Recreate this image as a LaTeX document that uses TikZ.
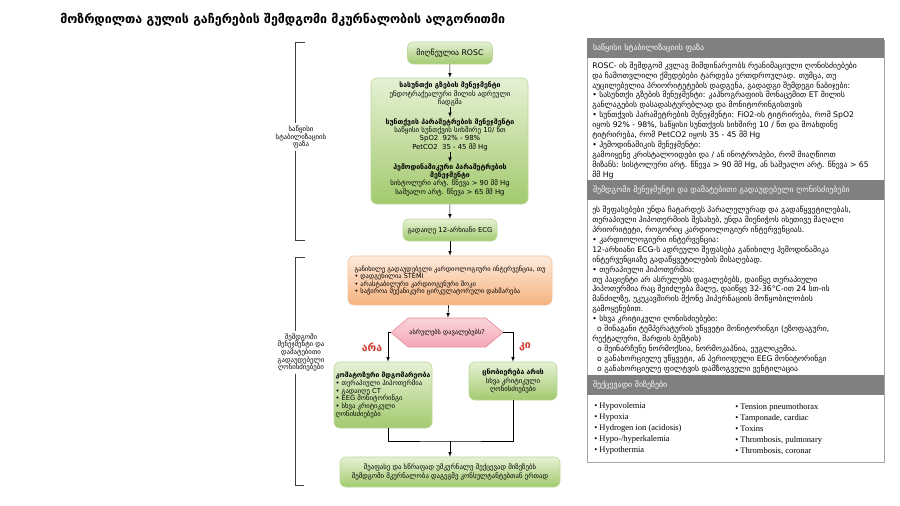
\documentclass[tikz,border=0pt]{standalone}
\usepackage{fontspec}
\setmainfont{DejaVu Sans}
\newfontfamily\latinserif{Liberation Serif}
\usetikzlibrary{shapes,arrows,positioning,calc}
\usepackage{xcolor}

\definecolor{greentop}{HTML}{E6F1D5}
\definecolor{greenbot}{HTML}{A2CA6E}
\definecolor{greenedge}{HTML}{BBD79A}
\definecolor{orangetop}{HTML}{FDEBDD}
\definecolor{orangebot}{HTML}{F6B27E}
\definecolor{orangeedge}{HTML}{F2C4A0}
\definecolor{pinktop}{HTML}{FAD3DA}
\definecolor{pinkbot}{HTML}{F3A9B6}
\definecolor{pinkedge}{HTML}{E38B9B}
\definecolor{hdrgray}{HTML}{808080}
\definecolor{panelgray}{HTML}{A6A6A6}
\definecolor{redlabel}{HTML}{CC3B2E}
\definecolor{brkgray}{HTML}{404040}

\begin{document}
\begin{tikzpicture}[x=1pt, y=-1pt, >=latex, line width=0.6pt,
    greenbox/.style={rounded corners=6pt, top color=greentop, bottom color=greenbot, draw=greenedge, align=center, inner sep=1pt, font=\fontsize{6.8}{8.5}\selectfont},
    orangebox/.style={rounded corners=6pt, top color=orangetop, bottom color=orangebot, draw=orangeedge, align=left, inner sep=1pt, font=\fontsize{6.5}{7.6}\selectfont},
    askbox/.style={signal, signal to=east and west, signal pointer angle=80, top color=pinktop, bottom color=pinkbot, draw=pinkedge, inner sep=1pt, font=\fontsize{6.4}{7}\selectfont},
    stabtext/.style={align=center, inner sep=1pt, font=\fontsize{6.9}{8.3}\selectfont},
    brktext/.style={align=center, inner sep=2pt, font=\fontsize{6.8}{7.6}\selectfont},
    yesno/.style={text=redlabel, font=\fontsize{10.5}{12}\selectfont\bfseries},
    hdr/.style={fill=hdrgray, text=white, minimum width=297, minimum height=16, text width=285, inner sep=6pt, align=left, font=\fontsize{7.9}{9}\selectfont},
    bodytext/.style={anchor=north west, align=left, inner sep=2pt, font=\fontsize{7.7}{9.9}\selectfont},
    causetext/.style={anchor=north west, align=left, inner sep=1pt, font=\latinserif\fontsize{8.5}{11}\selectfont}]
\useasboundingbox (0,0) rectangle (900,506);

% title
\node[anchor=west, inner sep=0pt, font=\fontsize{12.4}{14}\selectfont\bfseries] (title) at (60,20) {მოზრდილთა გულის გაჩერების შემდგომი მკურნალობის ალგორითმი};

% flow
\node[greenbox, minimum width=85, minimum height=22, font=\fontsize{7.8}{9}\selectfont] (rosc) at (450,53) {მიღწეულია ROSC};

\node[greenbox, minimum width=157, minimum height=126] (stab) at (449.5,141) {};
\node[stabtext] (airway) at (450,94) {\textbf{სასუნთქი გზების მენეჯმენტი}\\ენდოტრაქეალური მილის ადრეული\\ჩადგმა};
\node[stabtext] (breath) at (450,134.5) {\textbf{სუნთქვის პარამეტრების მენეჯმენტი}\\საწყისი სუნთქვის სიხშირე 10/ წთ\\SpO2 \ 92\% - 98\%\\PetCO2 \ 35 - 45 მმ Hg};
\node[stabtext] (hemo) at (450,179.5) {\textbf{ჰემოდინამიკური პარამეტრების}\\\textbf{მენეჯმენტი}\\სისტოლური არტ. წნევა > 90 მმ Hg\\საშუალო არტ. წნევა > 65 მმ Hg};

\node[greenbox, minimum width=94, minimum height=22] (ecg) at (450,230) {გადაიღე 12-არხიანი ECG};

\node[orangebox, minimum width=204, minimum height=49] (cath) at (450,280.5) {განიხილე გადაუდებელი კარდიოლოგიური ინტერვენცია, თუ\\
\textbullet\ დადგენილია STEMI\\
\textbullet\ არასტაბილური კარდიოგენური შოკი\\
\textbullet\ საჭიროა მექანიკური ცირკულატორული დახმარება};

\node[askbox, minimum width=104, minimum height=29] (ask) at (447,332.5) {ასრულებს დავალებებს?};

\node[greenbox, align=left, minimum width=98, minimum height=66, font=\fontsize{6.7}{7.9}\selectfont] (coma) at (383,395) {\textbf{კომატოზური მდგომარეობა}\\
\textbullet\ თერაპიული ჰიპოთერმია\\
\textbullet\ გადაიღე CT\\
\textbullet\ EEG მონიტორინგი\\
\textbullet\ სხვა კრიტიკული\\
ღონისძიებები};
\node[greenbox, minimum width=88, minimum height=38] (cons) at (513,381) {\textbf{ცნობიერება არის}\\სხვა კრიტიკული\\ღონისძიებები};

\node[greenbox, minimum width=220, minimum height=30] (final) at (450,472) {შეაფასე და სწრაფად უმკურნალე შექცევად მიზეზებს\\შემდგომი მკურნალობა დაგეგმე კონსულტანტებთან ერთად};

\node[yesno] (no) at (372,347) {არა};
\node[yesno] (yes) at (525,347) {კი};

\draw[->] (rosc) -- (stab);
\draw[->] (airway) -- (breath);
\draw[->] (breath) -- (hemo);
\draw[->] (stab) -- (ecg);
\draw[->] (ecg) -- (cath);
\draw[->] (cath) -- (ask);
\draw[->] (ask.west) -| ($(coma.north)+(5,0)$);
\draw[->] (ask.east) -| (cons.north);
\coordinate (merge) at (450,441);
\draw ($(coma.south)+(5,0)$) |- (merge) -| (cons.south);
\draw[->] (merge) -- (final);

% brackets
\node[brktext] (brk1) at (301,137) {საწყისი\\სტაბილიზაციის\\ფაზა};
\node[brktext] (brk2) at (301,352.5) {შემდგომი\\მენეჯმენტი და\\დამატებითი\\გადაუდებელი\\ღონისძიებები};
\draw[brkgray] (305,42) -- (295,42) -- (295,0 |- brk1.north);
\draw[brkgray] (295,0 |- brk1.south) -- (295,240) -- (305,240);
\draw[brkgray] (305,257) -- (295,257) -- (295,0 |- brk2.north);
\draw[brkgray] (295,0 |- brk2.south) -- (295,485) -- (304,485);

% right panel
\draw[panelgray, line width=0.8pt] (587,40) rectangle (884,462);
\node[hdr] (h1) at (735.5,48) {საწყისი სტაბილიზაციის ფაზა};
\node[bodytext] (b1) at (590,59.5) {ROSC- ის შემდგომ კვლავ მიმდინარეობს რეანიმაციული ღონისძიებები\\
და ჩამოთვლილი ქმედებები ტარდება ერთდროულად. თუმცა, თუ\\
აუცილებელია პრიორიტეტების დადგენა, გადადგი შემდეგი ნაბიჯები:\\
\textbullet\ სასუნთქი გზების მენეჯმენტი: კაპნოგრაფიის მონაცემით ET მილის\\
განლაგების დასადასტურებლად და მონიტორინგისთვის\\
\textbullet\ სუნთქვის პარამეტრების მენეჯმენტი: FiO2-ის ტიტრირება, რომ SpO2\\
იყოს 92\% - 98\%, საწყისი სუნთქვის სიხშირე 10 / წთ და მოახდინე\\
ტიტრირება, რომ PetCO2 იყოს 35 - 45 მმ Hg\\
\textbullet\ ჰემოდინამიკის მენეჯმენტი:\\
გამოიყენე კრისტალოიდები და / ან ინოტროპები, რომ მიაღწიოთ\\
მიზანს: სისტოლური არტ. წნევა > 90 მმ Hg, ან საშუალო არტ. წნევა > 65\\
მმ Hg};

\node[hdr] (h2) at (735.5,190) {შემდგომი მენეჯმენტი და დამატებითი გადაუდებელი ღონისძიებები};
\node[bodytext] (b2) at (590,204) {ეს შეფასებები უნდა ჩატარდეს პარალელურად და გადაწყვეტილებას,\\
თერაპიული ჰიპოთერმიის შესახებ, უნდა მიენიჭოს ისეთივე მაღალი\\
პრიორიტეტი, როგორიც კარდიოლოგიურ ინტერვენციას.\\
\textbullet\ კარდიოლოგიური ინტერვენცია:\\
12-არხიანი ECG-ს ადრეული შეფასება განიხილე ჰემოდინამიკა\\
ინტერვენციაზე გადაწყვეტილების მისაღებად.\\
\textbullet\ თერაპიული ჰიპოთერმია:\\
თუ პაციენტი არ ასრულებს დავალებებს, დაიწყე თერაპიული\\
ჰიპოთერმია რაც შეიძლება მალე, დაიწყე 32-36°C-ით 24 სთ-ის\\
მანძილზე, უკუკავშირის მქონე ჰიპერნაციის მოწყობილობის\\
გამოყენებით.\\
\textbullet\ სხვა კრიტიკული ღონისძიებები:\\
\ \ o შინაგანი ტემპერატურის უწყვეტი მონიტორინგი (ეზოფაგური,\\
რექტალური, შარდის ბუშტის)\\
\ \ o შეინარჩუნე ნორმოქსია, ნორმოკაპნია, ეუგლიკემია.\\
\ \ o განახორციელე უწყვეტი, ან პერიოდული EEG მონიტორინგი\\
\ \ o განახორციელე ფილტვის დამზოგველი ვენტილაცია};

\node[hdr] (h3) at (735.5,385) {შექცევადი მიზეზები};
\node[causetext] (c1) at (593,401) {\textbullet\ Hypovolemia\\
\textbullet\ Hypoxia\\
\textbullet\ Hydrogen ion (acidosis)\\
\textbullet\ Hypo-/hyperkalemia\\
\textbullet\ Hypothermia};
\node[causetext] (c2) at (734,402) {\textbullet\ Tension pneumothorax\\
\textbullet\ Tamponade, cardiac\\
\textbullet\ Toxins\\
\textbullet\ Thrombosis, pulmonary\\
\textbullet\ Thrombosis, coronar};
\end{tikzpicture}
\end{document}
